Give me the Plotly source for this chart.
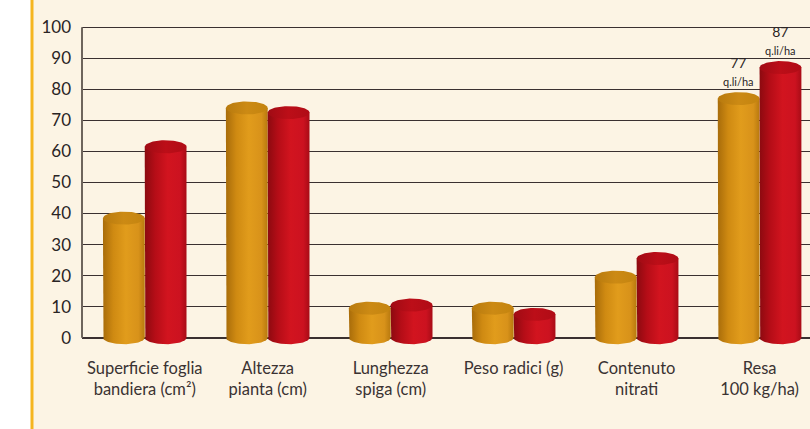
import numpy as np
import plotly.graph_objects as go

categories = ["Superficie foglia<br>bandiera (cm²)", "Altezza<br>pianta (cm)",
              "Lunghezza<br>spiga (cm)", "Peso radici (g)", "Contenuto<br>nitrati", "Resa<br>100 kg/ha)"]
series_a = [38.5, 74, 9.5, 9.5, 19.5, 77]   # orange
series_b = [61.5, 72.5, 10.5, 7.5, 25.5, 87]  # red
y_ticks = [0, 10, 20, 30, 40, 50, 60, 70, 80, 90, 100]
unit_label = "q.li/ha"

BG = "#fcf4e4"
W = 0.34      # cylinder width (category units)
EH = 2.1      # ellipse half-height (value units)

orange_body = [[0, "#a86c0a"], [0.25, "#cf8a12"], [0.55, "#e19c1c"], [0.85, "#d8921a"], [1, "#b8790e"]]
orange_cap = [[0, "#b87a0e"], [0.5, "#cc8a14"], [1, "#c4840f"]]
red_body = [[0, "#8c0a10"], [0.25, "#b50d17"], [0.55, "#d2141f"], [0.85, "#cc1220"], [1, "#a80c16"]]
red_cap = [[0, "#a00b14"], [0.5, "#bc0e18"], [1, "#b00c16"]]

fig = go.Figure()
t = np.linspace(0, np.pi, 40)
tf = np.linspace(0, 2 * np.pi, 80)

def cylinder(xc, v, body, cap):
    x0, x1 = xc - W / 2, xc + W / 2
    bx = [x0, x0] + list(xc - (W / 2) * np.cos(t)) + [x1, x1, x0]
    by = [v, 0] + list(-EH * np.sin(t)) + [0, v, v]
    fig.add_trace(go.Scatter(x=bx, y=by, mode="lines", line=dict(width=0), fill="toself",
                             fillgradient=dict(type="horizontal", colorscale=body),
                             hoverinfo="skip", showlegend=False))
    cx = xc + (W / 2) * np.cos(tf)
    cy = v + EH * np.sin(tf)
    fig.add_trace(go.Scatter(x=cx, y=cy, mode="lines", line=dict(width=0), fill="toself",
                             fillgradient=dict(type="horizontal", colorscale=cap),
                             hoverinfo="skip", showlegend=False))

for i in range(len(categories)):
    cylinder(i - W / 2, series_a[i], orange_body, orange_cap)
    cylinder(i + W / 2, series_b[i], red_body, red_cap)

# value labels on the last group
last = len(categories) - 1
for xc, v in [(last - W / 2, series_a[last]), (last + W / 2, series_b[last])]:
    fig.add_annotation(x=xc, y=v + EH, yanchor="bottom", xanchor="center", showarrow=False,
                       text=f"{v}<br><span style='font-size:11px'>{unit_label}</span>",
                       font=dict(family="Lato", size=14, color="#2a2424"), yshift=2)

# left axis line (0..100)
fig.add_shape(type="line", xref="paper", yref="y", x0=0, x1=0, y0=0, y1=100,
              line=dict(color="#6e655c", width=2), layer="above")
# decorative frame: white strip and yellow rule on the left
fig.add_shape(type="rect", xref="paper", yref="paper", x0=-82 / 728, x1=-51 / 728, y0=-1, y1=2,
              fillcolor="white", line=dict(width=0), layer="below")
fig.add_shape(type="line", xref="paper", yref="paper", x0=-50 / 728, x1=-50 / 728, y0=-1, y1=2,
              line=dict(color="#f5b51e", width=3), layer="below")

fig.update_layout(
    width=810, height=429,
    margin=dict(l=82, r=0, t=26, b=82),
    paper_bgcolor=BG, plot_bgcolor=BG,
    showlegend=False,
    xaxis=dict(range=[-0.51, 5.41], tickmode="array", tickvals=list(range(len(categories))),
               ticktext=categories, showgrid=False, zeroline=False, showline=False, ticks="",
               tickfont=dict(family="Lato", size=16.5, color="#3a3232"), ticklabelstandoff=9,
               fixedrange=True),
    yaxis=dict(range=[-3, 100.4], tickmode="array", tickvals=y_ticks, showgrid=True,
               gridcolor="#3a3030", gridwidth=1.3, zeroline=True, zerolinecolor="#3a3030",
               zerolinewidth=1.5, showline=False, ticks="",
               tickfont=dict(family="Lato", size=17, color="#2a2424"), ticklabelstandoff=10,
               fixedrange=True),
)

fig.write_html("out.html", config={"displayModeBar": False},
               post_script="document.body.style.margin='0';document.body.style.overflow='hidden';")
